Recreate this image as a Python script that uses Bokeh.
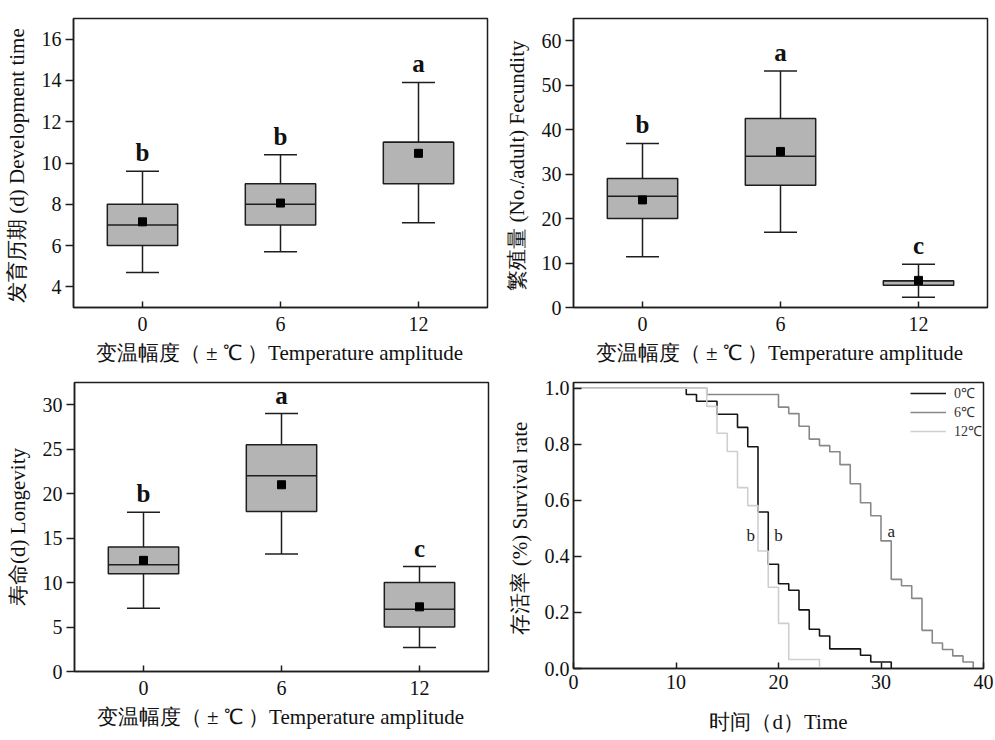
from bokeh.plotting import figure
from bokeh.models import (FactorRange, Range1d, FixedTicker, Legend, LegendItem,
                          ColumnDataSource, CustomJSTickFormatter)
from bokeh.layouts import column, row
from bokeh.embed import file_html
from bokeh.resources import INLINE
from bokeh.core.properties import value

# ---------------- data ----------------
amplitudes = ["0", "6", "12"]

dev_low = [4.7, 5.7, 7.1]
dev_q1 = [6.0, 7.0, 9.0]
dev_med = [7.0, 8.0, 11.0]
dev_q3 = [8.0, 9.0, 11.0]
dev_high = [9.6, 10.4, 13.9]
dev_mean = [7.15, 8.06, 10.47]
dev_letters = ["b", "b", "a"]

fec_low = [11.4, 16.9, 2.3]
fec_q1 = [20.0, 27.5, 5.0]
fec_med = [25.0, 34.0, 6.0]
fec_q3 = [29.0, 42.5, 6.0]
fec_high = [36.9, 53.2, 9.7]
fec_mean = [24.2, 35.1, 6.1]
fec_letters = ["b", "a", "c"]

lon_low = [7.1, 13.2, 2.7]
lon_q1 = [11.0, 18.0, 5.0]
lon_med = [12.0, 22.0, 7.0]
lon_q3 = [14.0, 25.5, 10.0]
lon_high = [17.9, 29.0, 11.8]
lon_mean = [12.5, 21.0, 7.27]
lon_letters = ["b", "a", "c"]

surv0_t = [0, 11, 12, 14, 16, 17, 18, 19, 20, 21, 22, 23, 24, 25, 28, 29, 31]
surv0_s = [1.0, 0.977, 0.953, 0.907, 0.860, 0.791, 0.558, 0.372, 0.302, 0.279,
           0.209, 0.140, 0.116, 0.070, 0.047, 0.023, 0.0]
surv6_t = [0, 13, 20, 21, 22, 23, 24, 25, 26, 27, 28, 29, 30, 31, 32, 33, 34, 35, 36, 37, 38, 39]
surv6_s = [1.0, 0.977, 0.932, 0.909, 0.864, 0.818, 0.795, 0.773, 0.727, 0.659, 0.591,
           0.545, 0.455, 0.318, 0.295, 0.250, 0.136, 0.091, 0.068, 0.045, 0.023, 0.0]
surv12_t = [0, 13, 14, 15, 16, 17, 18, 19, 20, 21, 24]
surv12_s = [1.0, 0.935, 0.839, 0.774, 0.645, 0.581, 0.419, 0.290, 0.161, 0.032, 0.0]
surv_labels = ["0℃", "6℃", "12℃"]
surv_letter_x = [17.3, 20.0, 31.0]
surv_letter_y = [0.475, 0.475, 0.49]
surv_letters = ["b", "b", "a"]

x_label = "变温幅度（ ± ℃ ）Temperature amplitude"

SERIF = "Liberation Serif"
LINE = "#1e1e1e"
BOX_FILL = "#b4b4b4"


def style(p, y_out=True):
    p.outline_line_color = LINE
    p.outline_line_width = 1.5
    p.xgrid.visible = False
    p.ygrid.visible = False
    for ax in list(p.xaxis) + list(p.yaxis):
        ax.axis_line_color = LINE
        ax.axis_line_width = 1.5
        ax.major_tick_line_color = LINE
        ax.major_tick_line_width = 1.5
        ax.minor_tick_line_color = None
        ax.major_label_text_font = SERIF
        ax.major_label_text_font_size = "20px"
        ax.major_label_text_color = "#111111"
        ax.axis_label_text_font = SERIF
        ax.axis_label_text_font_size = "21px"
        ax.axis_label_text_font_style = "normal"
        ax.axis_label_text_color = "#111111"
    for ax in p.xaxis:
        ax.major_tick_in = 6
        ax.major_tick_out = 0
        ax.major_label_standoff = 9
        ax.axis_label_standoff = 7
    for ax in p.yaxis:
        if y_out:
            ax.major_tick_in = 0
            ax.major_tick_out = 8
        else:
            ax.major_tick_in = 8
            ax.major_tick_out = 0
        ax.major_label_standoff = 4
        ax.axis_label_standoff = 10


def box_panel(low, q1, med, q3, high, mean, letters, yr, ticks, ylabel,
              left, right, top, bottom):
    p = figure(x_range=FactorRange(factors=amplitudes, range_padding=0),
               y_range=Range1d(*yr), frame_width=414, frame_height=289,
               min_border_left=left, min_border_right=right,
               min_border_top=top, min_border_bottom=bottom,
               output_backend="svg", toolbar_location=None)
    src = ColumnDataSource(dict(x=amplitudes, low=low, q1=q1, med=med, q3=q3,
                                high=high, mean=mean, letter=letters))
    p.segment(x0="x", y0="low", x1="x", y1="high", source=src,
              line_color=LINE, line_width=1.5)
    p.scatter(x="x", y="low", source=src, marker="dash", size=33,
              line_color=LINE, line_width=1.5)
    p.scatter(x="x", y="high", source=src, marker="dash", size=33,
              line_color=LINE, line_width=1.5)
    p.vbar(x="x", top="q3", bottom="q1", width=0.51, source=src,
           fill_color=BOX_FILL, line_color=LINE, line_width=1.5)
    p.scatter(x="x", y="med", source=src, marker="dash", size=70,
              line_color=LINE, line_width=1.5)
    p.scatter(x="x", y="mean", source=src, marker="square", size=8,
              fill_color="black", line_color="black")
    p.text(x="x", y="high", text="letter", source=src, text_align="center",
           text_baseline="bottom", y_offset=-5,
           text_font=value(SERIF), text_font_size="25px",
           text_font_style="bold", text_color="#111111")
    p.yaxis.ticker = FixedTicker(ticks=ticks)
    p.xaxis.axis_label = x_label
    p.yaxis.axis_label = ylabel
    style(p, y_out=True)
    return p


p1 = box_panel(dev_low, dev_q1, dev_med, dev_q3, dev_high, dev_mean, dev_letters,
               (3, 17), [4, 6, 8, 10, 12, 14, 16], "发育历期 (d)  Development time",
               73, 8, 18, 63)
p2 = box_panel(fec_low, fec_q1, fec_med, fec_q3, fec_high, fec_mean, fec_letters,
               (0, 65), [0, 10, 20, 30, 40, 50, 60], "繁殖量 (No./adult)  Fecundity",
               78, 8, 18, 63)
p3 = box_panel(lon_low, lon_q1, lon_med, lon_q3, lon_high, lon_mean, lon_letters,
               (0, 32.5), [0, 5, 10, 15, 20, 25, 30], "寿命(d) Longevity",
               74, 7, 12, 59)

# survival panel
p4 = figure(x_range=Range1d(0, 40), y_range=Range1d(0, 1.02),
            frame_width=410, frame_height=286,
            min_border_left=78, min_border_right=12,
            min_border_top=12, min_border_bottom=72,
            output_backend="svg", toolbar_location=None)
r0 = p4.step(surv0_t, surv0_s, mode="after", line_color="#151515", line_width=1.6)
r6 = p4.step(surv6_t, surv6_s, mode="after", line_color="#888888", line_width=1.6)
r12 = p4.step(surv12_t, surv12_s, mode="after", line_color="#cfcfcf", line_width=1.6)
p4.text(x=surv_letter_x, y=surv_letter_y, text=surv_letters, text_align="center",
        text_baseline="middle", text_font=value(SERIF), text_font_size="17px",
        text_color="#222222")
p4.xaxis.ticker = FixedTicker(ticks=[0, 10, 20, 30, 40])
p4.yaxis.ticker = FixedTicker(ticks=[0.0, 0.2, 0.4, 0.6, 0.8, 1.0])
p4.yaxis.formatter = CustomJSTickFormatter(code="return tick.toFixed(1);")
p4.xaxis.axis_label = "时间（d）Time"
p4.yaxis.axis_label = "存活率 (%)  Survival rate"
style(p4, y_out=False)
p4.xaxis.major_label_standoff = 6
p4.xaxis.axis_label_standoff = 18
legend = Legend(items=[LegendItem(label=surv_labels[0], renderers=[r0]),
                       LegendItem(label=surv_labels[1], renderers=[r6]),
                       LegendItem(label=surv_labels[2], renderers=[r12])],
                location="top_right", border_line_color=None,
                background_fill_alpha=0, label_text_font=SERIF,
                label_text_font_size="14px", label_text_color="#333333",
                glyph_width=36, glyph_height=12, label_height=12,
                spacing=0, padding=2, margin=1, label_standoff=8)
p4.add_layout(legend)

layout = column(row(p1, p2, spacing=0), row(p3, p4, spacing=0), spacing=0)

with open("out.html", "w") as f:
    f.write(file_html(layout, INLINE))
